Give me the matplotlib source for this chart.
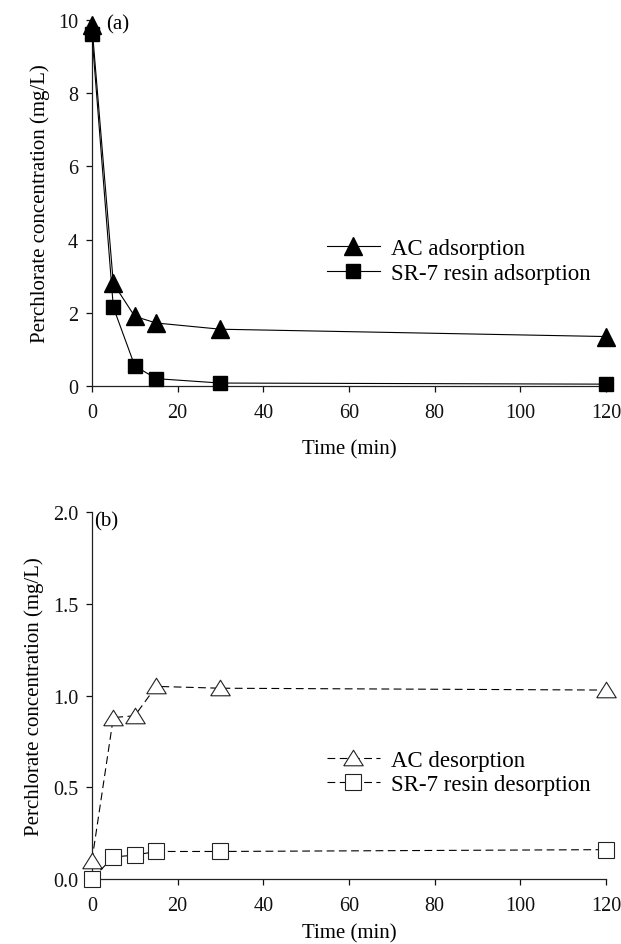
import matplotlib
matplotlib.use("Agg")
import matplotlib.pyplot as plt

plt.rcParams['font.family'] = ['Liberation Serif', 'DejaVu Serif']

time = [0, 5, 10, 15, 30, 120]
ac_ads = [9.85, 2.8, 1.9, 1.72, 1.55, 1.35]
sr_ads = [9.6, 2.15, 0.55, 0.2, 0.08, 0.05]
ac_des = [0.1, 0.88, 0.89, 1.05, 1.04, 1.03]
sr_des = [0.0, 0.12, 0.13, 0.15, 0.15, 0.16]

xticks = [0, 20, 40, 60, 80, 100, 120]
yticks_a = [0, 2, 4, 6, 8, 10]
yticks_b = [0.0, 0.5, 1.0, 1.5, 2.0]

fig = plt.figure(figsize=(6.21, 9.45), dpi=100)
ax1 = fig.add_axes([0.148, 0.5905, 0.828, 0.3875])
ax2 = fig.add_axes([0.148, 0.0688, 0.828, 0.3882])

tri_open = [(-1.0, -0.75), (1.0, -0.75), (0.0, 0.85), (-1.0, -0.75)]

ax1.plot(time, ac_ads, color='black', lw=0.8, marker='^', ms=13,
         mfc='black', mec='black', clip_on=False, zorder=3, label='AC adsorption')
ax1.plot(time, sr_ads, color='black', lw=0.8, marker='s', ms=10.5,
         mfc='black', mec='black', clip_on=False, zorder=3, label='SR-7 resin adsorption')

ax2.plot(time, ac_des, color='black', lw=0.8, ls=(0, (7, 4)), marker=tri_open, ms=14,
         mfc='white', mec='#222222', mew=0.8, clip_on=False, zorder=3, label='AC desorption')
ax2.plot(time, sr_des, color='black', lw=0.8, ls=(0, (7, 4)), marker='s', ms=11,
         mfc='white', mec='#222222', mew=0.8, clip_on=False, zorder=3, label='SR-7 resin desorption')

for ax, yt, ylim, fmt in [(ax1, yticks_a, (0, 10), '{:g}'), (ax2, yticks_b, (0, 2.0), '{:.1f}')]:
    ax.set_xlim(0, 120)
    ax.set_ylim(*ylim)
    ax.set_xticks(xticks)
    ax.set_yticks(yt)
    ax.set_yticklabels([fmt.format(v) for v in yt])
    for s in ['top', 'right']:
        ax.spines[s].set_visible(False)
    for s in ['left', 'bottom']:
        ax.spines[s].set_linewidth(0.9)
        ax.spines[s].set_color('#222222')
    ax.tick_params(direction='out', length=4, width=0.9, labelsize=14.5, colors='#111111')
    ax.tick_params(axis='x', pad=8)
    ax.tick_params(axis='y', pad=6)
    ax.set_ylabel('Perchlorate concentration (mg/L)', fontsize=15, labelpad=6)

ax1.set_xlabel('Time (min)', fontsize=15, labelpad=13)
ax2.set_xlabel('Time (min)', fontsize=15, labelpad=6)

ax1.text(0.027, 0.99, '(a)', transform=ax1.transAxes, fontsize=15, va='center', ha='left')
ax2.text(0.005, 0.975, '(b)', transform=ax2.transAxes, fontsize=15, va='center', ha='left')

ax1.legend(loc='center left', bbox_to_anchor=(0.5266, 0.7228), bbox_transform=fig.transFigure,
           frameon=False, fontsize=16.5, handlelength=2.3, handletextpad=0.5,
           labelspacing=0.15, borderpad=0, borderaxespad=0)
ax2.legend(loc='center left', bbox_to_anchor=(0.5266, 0.1815), bbox_transform=fig.transFigure,
           frameon=False, fontsize=16.5, handlelength=2.3, handletextpad=0.5,
           labelspacing=0.15, borderpad=0, borderaxespad=0)

fig.savefig('out.png', dpi=100)
